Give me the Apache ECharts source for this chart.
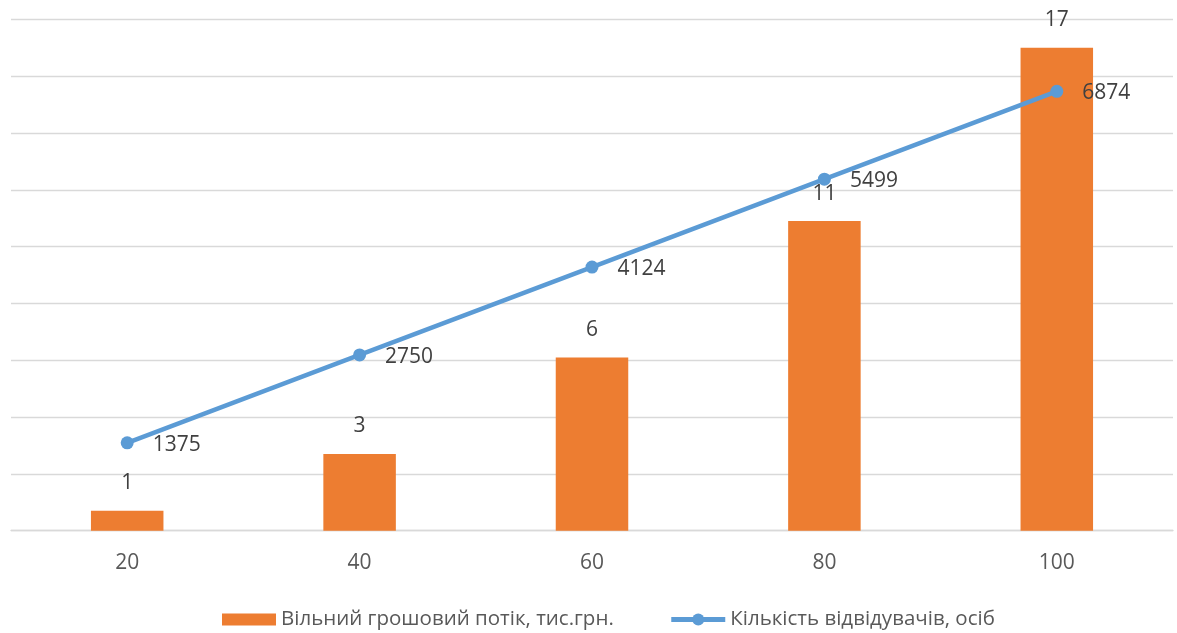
<!DOCTYPE html>
<html>
<head>
<meta charset="utf-8">
<script src="https://cdn.jsdelivr.net/npm/echarts@6/dist/echarts.min.js"></script>
<style>
html,body{margin:0;padding:0;background:#fff;}
#chart{width:1177px;height:633px;}
</style>
</head>
<body>
<div id="chart"></div>
<script>
const categories = ['20', '40', '60', '80', '100'];
const cashFlow = [0.7, 2.7, 6.1, 10.9, 17.0];
const visitors = [1375, 2750, 4124, 5499, 6874];
const seriesNames = ['Вільний грошовий потік, тис.грн.', 'Кількість відвідувачів, осіб'];

const FONT = 'Open Sans';
const chart = echarts.init(document.getElementById('chart'), null, {renderer: 'canvas'});
chart.setOption({
  animation: false,
  textStyle: {fontFamily: FONT},
  grid: {left: 11, right: 4, top: 19.3, bottom: 102.3, containLabel: false},
  legend: {
    left: 222, top: 609, padding: 0,
    itemWidth: 54, itemHeight: 15, itemGap: 55,
    symbolKeepAspect: true,
    textStyle: {fontFamily: FONT, fontSize: 20.5, color: '#595959'},
    data: [
      {name: seriesNames[0], icon: 'path://M0,0H53V12H0Z'},
      {name: seriesNames[1], lineStyle: {width: 5, color: '#5B9BD5'}}
    ]
  },
  xAxis: {
    type: 'category', data: categories,
    axisLine: {lineStyle: {color: '#D9D9D9', width: 1.3}},
    axisTick: {show: false},
    axisLabel: {fontFamily: FONT, fontSize: 21, color: '#595959', margin: 22}
  },
  yAxis: [
    {type: 'value', min: 0, max: 18, interval: 2,
     axisLabel: {show: false}, axisLine: {show: false}, axisTick: {show: false},
     splitLine: {lineStyle: {color: '#D9D9D9', width: 1.3}}},
    {type: 'value', min: 0, max: 8000, interval: 1000,
     axisLabel: {show: false}, axisLine: {show: false}, axisTick: {show: false},
     splitLine: {show: false}}
  ],
  series: [
    {name: seriesNames[0], type: 'bar', data: cashFlow, barWidth: '31.2%',
     itemStyle: {color: '#ED7D31'},
     label: {show: true, position: 'top', distance: 17, fontFamily: FONT, fontSize: 21, color: '#404040',
       formatter: p => String(Math.round(p.value))}},
    {name: seriesNames[1], type: 'line', yAxisIndex: 1, data: visitors,
     symbol: 'circle', symbolSize: 13,
     lineStyle: {color: '#5B9BD5', width: 4.5},
     itemStyle: {color: '#5B9BD5'},
     label: {show: true, position: 'right', distance: 19, offset: [0, 2], fontFamily: FONT, fontSize: 21, color: '#404040'}}
  ]
});
</script>
</body>
</html>
